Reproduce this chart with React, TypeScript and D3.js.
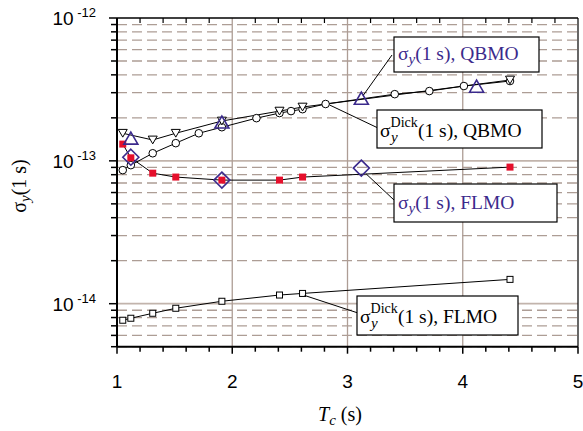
import React from 'react';
import * as d3 from 'd3';

// Tc (s) and Allan deviation values
const T_DICK_QBMO = [1.05, 1.12, 1.31, 1.51, 1.71, 1.91, 2.21, 2.41, 2.51, 2.61, 2.81, 3.41, 3.71, 4.01, 4.41];
const DICK_QBMO = [8.61e-14, 9.33e-14, 1.13e-13, 1.33e-13, 1.56e-13, 1.72e-13, 1.99e-13, 2.16e-13, 2.23e-13, 2.3e-13, 2.5e-13, 2.93e-13, 3.08e-13, 3.34e-13, 3.62e-13];

const T_QBMO_DOWN = [1.05, 1.31, 1.51, 1.91, 2.41, 2.61, 4.41];
const QBMO_DOWN = [1.56e-13, 1.4e-13, 1.56e-13, 1.9e-13, 2.23e-13, 2.38e-13, 3.68e-13];

const T_FLMO = [1.05, 1.12, 1.31, 1.51, 1.91, 2.41, 2.61, 4.41];
const FLMO_RED = [1.31e-13, 1.05e-13, 8.2e-14, 7.7e-14, 7.33e-14, 7.33e-14, 7.7e-14, 9.04e-14];
const DICK_FLMO = [7.66e-15, 7.91e-15, 8.57e-15, 9.29e-15, 1.04e-14, 1.15e-14, 1.18e-14, 1.48e-14];

const T_QBMO_TRI = [1.12, 1.91, 3.12, 4.12];
const QBMO_TRI = [1.42e-13, 1.84e-13, 2.7e-13, 3.28e-13];

const T_FLMO_DIAM = [1.12, 1.91, 3.12];
const FLMO_DIAM = [1.06e-13, 7.33e-14, 8.9e-14];

const X_TICKS = [1, 2, 3, 4, 5];
const Y_DECADES = [-12, -13, -14];

const PURPLE = '#3b2a8c';
const RED = '#e5102c';
const GRID = '#ad9d95';
const SERIF = '"Liberation Serif", "Times New Roman", serif';
const SANS = '"Liberation Sans", Arial, sans-serif';

const W = 583, H = 431;
const left = 117, right = 578, top = 18, bottom = 346.7;

const x = d3.scaleLinear().domain([1, 5]).range([left, right]);
const y = d3.scaleLog().domain([5e-15, 1e-12]).range([bottom, top]);

const zip = (ts: number[], vs: number[]) => ts.map((t, i) => [t, vs[i]] as [number, number]);
const line = d3.line<[number, number]>().x(d => x(d[0])).y(d => y(d[1]));

export default function App() {
  // minor log positions
  const minors: number[] = [];
  [-15, -14, -13].forEach(e => {
    for (let k = 2; k <= 9; k++) {
      const v = k * Math.pow(10, e);
      if (v > 5e-15 && v < 1e-12) minors.push(v);
    }
  });
  const xMinor = d3.range(1, 5.001, 0.2).map(v => +v.toFixed(2));

  const dickQ = zip(T_DICK_QBMO, DICK_QBMO);
  const downQ = zip(T_QBMO_DOWN, QBMO_DOWN);
  const redF = zip(T_FLMO, FLMO_RED);
  const dickF = zip(T_FLMO, DICK_FLMO);
  const triQ = zip(T_QBMO_TRI, QBMO_TRI);
  const diamF = zip(T_FLMO_DIAM, FLMO_DIAM);

  const tri = (cx: number, cy: number, s: number, down = false) => {
    const h = s * 0.86;
    return down
      ? `M${cx - s / 2},${cy - h / 2}L${cx + s / 2},${cy - h / 2}L${cx},${cy + h / 2}Z`
      : `M${cx - s / 2},${cy + h / 2}L${cx + s / 2},${cy + h / 2}L${cx},${cy - h / 2}Z`;
  };

  return (
    <svg width={W} height={H} style={{ position: 'absolute', left: 0, top: 0, background: '#fff' }}>
      {/* grid */}
      {minors.map((v, i) => (
        <line key={'m' + i} x1={left} x2={right} y1={y(v)} y2={y(v)} stroke={GRID} strokeWidth={1.3} strokeDasharray="10 5" />
      ))}
      {[1e-13, 1e-14].map((v, i) => (
        <line key={'d' + i} x1={left} x2={right} y1={y(v)} y2={y(v)} stroke="#c2b4ac" strokeWidth={1.8} />
      ))}
      {[2, 3, 4].map(v => (
        <line key={'v' + v} x1={x(v)} x2={x(v)} y1={top} y2={bottom} stroke={GRID} strokeWidth={1.3} />
      ))}

      {/* axes */}
      <line x1={left} x2={left} y1={top} y2={bottom} stroke="#000" strokeWidth={2} />
      <line x1={left} x2={right} y1={bottom} y2={bottom} stroke="#000" strokeWidth={2} />
      <line x1={left} x2={right} y1={top} y2={top} stroke="#000" strokeWidth={1.5} />
      <line x1={right} x2={right} y1={top} y2={bottom} stroke="#000" strokeWidth={1.2} />
      {minors.map((v, i) => (
        <line key={'lt' + i} x1={left - 6} x2={left} y1={y(v)} y2={y(v)} stroke="#000" strokeWidth={1.5} />
      ))}
      {Y_DECADES.map(e => (
        <line key={'lT' + e} x1={left - 8} x2={left} y1={y(Math.pow(10, e))} y2={y(Math.pow(10, e))} stroke="#000" strokeWidth={1.5} />
      ))}
      {xMinor.map((v, i) => {
        const major = Math.abs(v - Math.round(v)) < 1e-6;
        return (
          <g key={'xt' + i}>
            <line x1={x(v)} x2={x(v)} y1={bottom} y2={bottom + (major ? 7 : 5)} stroke="#000" strokeWidth={1.5} />
            {!major && <line x1={x(v)} x2={x(v)} y1={top} y2={top + 5} stroke="#000" strokeWidth={1.2} />}
          </g>
        );
      })}

      {/* tick labels */}
      {X_TICKS.map(v => (
        <text key={'xl' + v} x={x(v)} y={388} textAnchor="middle" fontFamily={SANS} fontSize={19}>{v}</text>
      ))}
      {Y_DECADES.map(e => (
        <text key={'yl' + e} x={96} y={y(Math.pow(10, e)) + 7} textAnchor="end" fontFamily={SANS} fontSize={19}>
          10<tspan dy={-8} fontSize={13}>{' ' + e}</tspan>
        </text>
      ))}

      {/* axis titles */}
      <text x={318} y={421} fontFamily={SERIF} fontSize={20}>
        <tspan fontStyle="italic">T</tspan>
        <tspan fontStyle="italic" fontSize={15} dy={4}>c</tspan>
        <tspan dy={-4}>{' (s)'}</tspan>
      </text>
      <text transform="translate(26,186) rotate(-90)" textAnchor="middle" fontFamily={SERIF} fontSize={20}>
        σ<tspan fontStyle="italic" fontSize={15} dy={4}>y</tspan>
        <tspan dy={-4}>(1 s)</tspan>
      </text>

      {/* series lines */}
      <path d={line(dickQ) || ''} fill="none" stroke="#000" strokeWidth={1} />
      <path d={line(downQ) || ''} fill="none" stroke="#000" strokeWidth={1} />
      <path d={line(redF) || ''} fill="none" stroke="#000" strokeWidth={1} />
      <path d={line(dickF) || ''} fill="none" stroke="#000" strokeWidth={1} />

      {/* markers */}
      {dickF.map((d, i) => (
        <rect key={'df' + i} x={x(d[0]) - 3} y={y(d[1]) - 3} width={6} height={6} fill="#fff" stroke="#000" strokeWidth={1} />
      ))}
      {dickQ.map((d, i) => (
        <circle key={'dq' + i} cx={x(d[0])} cy={y(d[1])} r={3.8} fill="#fff" stroke="#000" strokeWidth={1} />
      ))}
      {downQ.map((d, i) => (
        <path key={'dn' + i} d={tri(x(d[0]), y(d[1]), 9, true)} fill="#fff" stroke="#000" strokeWidth={1} />
      ))}
      {redF.map((d, i) => (
        <rect key={'rf' + i} x={x(d[0]) - 3.5} y={y(d[1]) - 3.5} width={7} height={7} fill={RED} />
      ))}
      {diamF.map((d, i) => {
        const cx = x(d[0]), cy = y(d[1]), r = 8;
        return <path key={'dm' + i} d={`M${cx},${cy - r}L${cx + r},${cy}L${cx},${cy + r}L${cx - r},${cy}Z`} fill="none" stroke={PURPLE} strokeWidth={1.6} />;
      })}
      {triQ.map((d, i) => (
        <path key={'tq' + i} d={tri(x(d[0]), y(d[1]) - 1, 14)} fill="none" stroke={PURPLE} strokeWidth={1.6} />
      ))}

      {/* leader lines */}
      <line x1={392} y1={55} x2={x(3.12) + 2} y2={y(2.7e-13) - 4} stroke="#000" strokeWidth={1} />
      <line x1={378} y1={128} x2={x(2.81) + 4} y2={y(2.5e-13) + 1} stroke="#000" strokeWidth={1} />
      <line x1={394} y1={200} x2={x(3.12) + 5} y2={y(8.9e-14) + 6} stroke="#000" strokeWidth={1} />
      <line x1={358} y1={313} x2={x(2.61) + 2} y2={y(1.18e-14) + 2} stroke="#000" strokeWidth={1} />

      {/* labels */}
      <rect x={394} y={37} width={145} height={35} fill="#fff" stroke="#000" strokeWidth={1.2} />
      <text x={398} y={60} fontFamily={SERIF} fontSize={19.5} fill={PURPLE}>
        σ<tspan fontStyle="italic" fontSize={15} dy={4}>y</tspan><tspan dy={-4}>(1 s), QBMO</tspan>
      </text>

      <rect x={377} y={110} width={165} height={38} fill="#fff" stroke="#000" strokeWidth={1.2} />
      <text x={380} y={137} fontFamily={SERIF} fontSize={19.5} fill="#000">
        σ<tspan fontSize={14} dy={-10}>Dick</tspan>
        <tspan fontStyle="italic" fontSize={15} x={391} dy={15}>y</tspan>
        <tspan x={418} dy={-5}>(1 s), QBMO</tspan>
      </text>

      <rect x={394} y={184} width={163} height={38} fill="#fff" stroke="#000" strokeWidth={1.2} />
      <text x={398} y={209} fontFamily={SERIF} fontSize={19.5} fill={PURPLE}>
        σ<tspan fontStyle="italic" fontSize={15} dy={4}>y</tspan><tspan dy={-4}>(1 s), FLMO</tspan>
      </text>

      <rect x={357} y={296} width={161} height={39} fill="#fff" stroke="#000" strokeWidth={1.2} />
      <text x={360} y={323} fontFamily={SERIF} fontSize={19.5} fill="#000">
        σ<tspan fontSize={14} dy={-10}>Dick</tspan>
        <tspan fontStyle="italic" fontSize={15} x={371} dy={15}>y</tspan>
        <tspan x={398} dy={-5}>(1 s), FLMO</tspan>
      </text>
    </svg>
  );
}
